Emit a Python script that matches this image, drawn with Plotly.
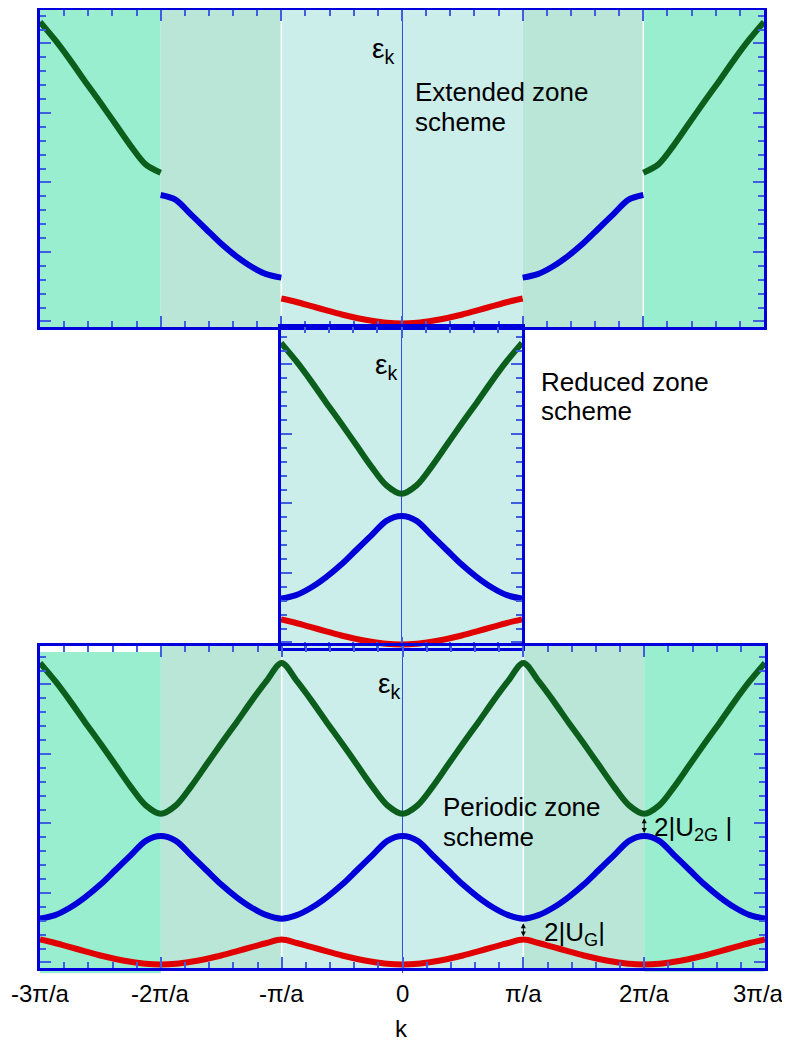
import plotly.graph_objects as go

# k in units of pi/a, reduced zone half (0 .. pi/a); energies
k_half = [0, 0.125, 0.25, 0.375, 0.5, 0.625, 0.75, 0.875, 1.0]
band1 = [-0.03, -0.02, 0.01, 0.05, 0.10, 0.16, 0.22, 0.28, 0.33]   # red
band2 = [1.82, 1.75, 1.54, 1.33, 1.12, 0.94, 0.79, 0.68, 0.63]     # blue
band3 = [2.14, 2.26, 2.53, 2.84, 3.15, 3.45, 3.76, 4.05, 4.31]     # green

tick_vals = [-3, -2, -1, 0, 1, 2, 3]
tick_text = ["-3\u03c0/a", "-2\u03c0/a", "-\u03c0/a", "0", "\u03c0/a", "2\u03c0/a", "3\u03c0/a"]

RED = "#E00000"
BLUE = "#0000D8"
GREEN = "#0B5E1C"
FRAME = "#0000DD"
TICKC = "#3F5FE0"
Z1 = "#CCEEEA"
Z2 = "#BAE6D8"
Z3 = "#99EECF"
FONT = "Liberation Sans, Arial, sans-serif"

W, H = 790, 1042
OFF = 8  # page body margin


def full(v):
    return v[::-1] + v[1:]


k_full = [-k for k in k_half[::-1]] + k_half[1:]

fig = go.Figure()


def line(x, y, c, ax):
    fig.add_trace(go.Scatter(x=x, y=y, mode="lines", xaxis="x" + ax, yaxis="y" + ax,
                             line=dict(color=c, width=6, shape="spline", smoothing=0.9),
                             hoverinfo="skip", showlegend=False))


# ---- extended zone (panel 1)
line(k_full, full(band1), RED, "")
bx = [-(1 + k) for k in k_half] + [None] + [1 + k for k in k_half]
by = band2[::-1] + [None] + band2[::-1]
line(bx, by, BLUE, "")
gx = [-(2 + k) for k in k_half] + [None] + [2 + k for k in k_half]
gy = band3 + [None] + band3
line(gx, gy, GREEN, "")

# ---- reduced zone (panel 2)
for b, c in [(band1, RED), (band2, BLUE), (band3, GREEN)]:
    line(k_full, full(b), c, "2")


# ---- periodic zone (panel 3)
def periodic(v):
    xs, ys = [], []
    for n in (-2, 0, 2):
        xx = [k + n for k in k_full]
        yy = full(v)
        if xs:
            xx, yy = xx[1:], yy[1:]
        xs += xx
        ys += yy
    return xs, ys


for b, c in [(band1, RED), (band2, BLUE), (band3, GREEN)]:
    px_, py_ = periodic(b)
    line(px_, py_, c, "3")

# ---- shaded zones
shapes = []


def rect(xr, x0, x1, col, y0=0, y1=1):
    shapes.append(dict(type="rect", xref=xr, yref=xr.replace("x", "y") + " domain",
                       x0=x0, x1=x1, y0=y0, y1=y1, fillcolor=col, line_width=0, layer="below"))


def vline(xr, x, col, w, y0=0, y1=1):
    shapes.append(dict(type="line", xref=xr, yref=xr.replace("x", "y") + " domain",
                       x0=x, x1=x, y0=y0, y1=y1, line=dict(color=col, width=w), layer="below"))


rect("x", -3, -2, Z3)
rect("x", -2, -1, Z2)
rect("x", -1, 1, Z1)
rect("x", 1, 2, Z2)
rect("x", 2, 3, Z3)
rect("x3", -3.025, -2, Z3, -0.016, 0.981)
rect("x3", -2, -1, Z2, -0.008, 1)
rect("x3", -1, 1, Z1)
rect("x3", 1, 2, Z2)
rect("x3", 2, 3.01, Z3, -0.012, 1)
rect("x2", -1, 1, Z1)
vline("x", -1, "white", 1.5)
vline("x", 2, "white", 1.5)
vline("x3", -1, "white", 1.5)
vline("x3", 1, "white", 1.5)
vline("x3", 0, "#2F4FE6", 1, -0.016, 0)

# panel positions (reference pixels minus the page margin)
ydom1 = [1 - (327 - OFF) / H, 1 - 1.5 / H]
ydom2 = [1 - (648 - OFF) / H, 1 - (327 - OFF) / H]
ydom3 = [1 - (968 - OFF) / H, 1 - (646 - OFF) / H]
xdom1 = [(40 - OFF) / W, (764 - OFF) / W]
xdom2 = [(281 - OFF) / W, (522 - OFF) / W]
xdom3 = [(40 - OFF) / W, (765 - OFF) / W]

PXU = 69.5  # pixels per energy unit
yr1 = [-0.08, -0.08 + (327 - OFF - 1.5) / PXU]
yr2 = [-0.08, -0.08 + 321 / PXU]
yr3 = [-0.08, -0.08 + 322 / PXU]


def xax(dom, rng, anchor):
    return dict(domain=dom, range=rng, anchor=anchor, showgrid=False, zeroline=True,
                zerolinecolor="#2F4FE6", zerolinewidth=1,
                showline=True, linecolor=FRAME, linewidth=3, mirror="ticks",
                ticks="inside", ticklen=11, tickwidth=1.5, tickcolor=TICKC,
                tick0=0, dtick=1,
                minor=dict(ticks="inside", ticklen=6, tickwidth=1.5, tickcolor=TICKC, dtick=0.2, tick0=0),
                showticklabels=False, automargin=False, fixedrange=True)


def yax(dom, rng, anchor):
    return dict(domain=dom, range=rng, anchor=anchor, showgrid=False, zeroline=False,
                showline=True, linecolor=FRAME, linewidth=3, mirror="ticks",
                ticks="inside", ticklen=11, tickwidth=1.5, tickcolor=TICKC,
                tick0=0, dtick=1,
                minor=dict(ticks="inside", ticklen=6, tickwidth=1.5, tickcolor=TICKC, dtick=0.2, tick0=0),
                showticklabels=False, automargin=False, fixedrange=True)


txt = dict(family=FONT, size=26, color="black")
eps = dict(family=FONT, size=28, color="black")


def label(xr, yr, x, y, text, xshift=0, yshift=0, anchor="left", font=txt):
    return dict(xref=xr, yref=yr, x=x, y=y, text=text, showarrow=False, xanchor=anchor,
                yanchor="middle", xshift=xshift, yshift=yshift, font=font)


annotations = [
    label("x", "y domain", 0, 0.872, "\u03b5<sub>k</sub>", -6, 0, "right", eps),
    label("x2", "y2 domain", 0, 0.876, "\u03b5<sub>k</sub>", -3, 0, "right", eps),
    label("x3", "y3 domain", 0, 0.877, "\u03b5<sub>k</sub>", -1, 0, "right", eps),
    label("x", "y domain", 0.124, 0.741, "Extended zone", -4),
    label("x", "y domain", 0.124, 0.647, "scheme", -4),
    label("paper", "paper", (541 - OFF) / W, 1 - (381.7 - OFF) / H, "Reduced zone", -2),
    label("paper", "paper", (541 - OFF) / W, 1 - (410.5 - OFF) / H, "scheme", -2),
    label("x3", "y3 domain", 0.349, 0.501, "Periodic zone", -4),
    label("x3", "y3 domain", 0.349, 0.408, "scheme", -4),
    label("x3", "y3", 2, (band2[0] + band3[0]) / 2, "2|U<sub>2G</sub> |", 8, -4),
    label("x3", "y3", 1, (band1[-1] + band2[-1]) / 2, "2|U<sub>G</sub>|", 19, -4),
    # double arrows for gaps
    dict(xref="x3", yref="y3", axref="x3", ayref="y3", x=2, y=band2[0], ax=2, ay=band3[0], text="",
         showarrow=True, arrowside="end+start", arrowhead=2, startarrowhead=2, arrowsize=1,
         startarrowsize=1, arrowwidth=1, arrowcolor="black", standoff=3, startstandoff=3),
    dict(xref="x3", yref="y3", axref="x3", ayref="y3", x=1, y=band1[-1], ax=1, ay=band2[-1], text="",
         showarrow=True, arrowside="end+start", arrowhead=2, startarrowhead=2, arrowsize=1,
         startarrowsize=1, arrowwidth=1, arrowcolor="black", standoff=3, startstandoff=3),
    label("paper", "paper", (401 - OFF) / W, 1 - (1028 - OFF) / H, "k", 0, 0, "center",
          dict(family=FONT, size=24, color="black")),
]
# k-axis tick labels under the bottom panel
tick_font = dict(family=FONT, size=24, color="black")
for v, t in zip(tick_vals, tick_text):
    if v == 3:
        annotations.append(label("x3", "paper", v, 1 - (993 - OFF) / H, t, 21, 0, "right", tick_font))
    else:
        annotations.append(label("x3", "paper", v, 1 - (993 - OFF) / H, t, 0, 0, "center", tick_font))

fig.update_layout(
    width=W, height=H,
    margin=dict(l=0, r=0, t=0, b=0, pad=0),
    paper_bgcolor="white", plot_bgcolor="rgba(0,0,0,0)",
    showlegend=False,
    xaxis=xax(xdom1, [-3, 3], "y"),
    yaxis=yax(ydom1, yr1, "x"),
    xaxis2=xax(xdom2, [-1, 1], "y2"),
    yaxis2=yax(ydom2, yr2, "x2"),
    xaxis3=xax(xdom3, [-3, 3], "y3"),
    yaxis3=yax(ydom3, yr3, "x3"),
    shapes=shapes,
    annotations=annotations,
)

fig.write_html("out.html")
